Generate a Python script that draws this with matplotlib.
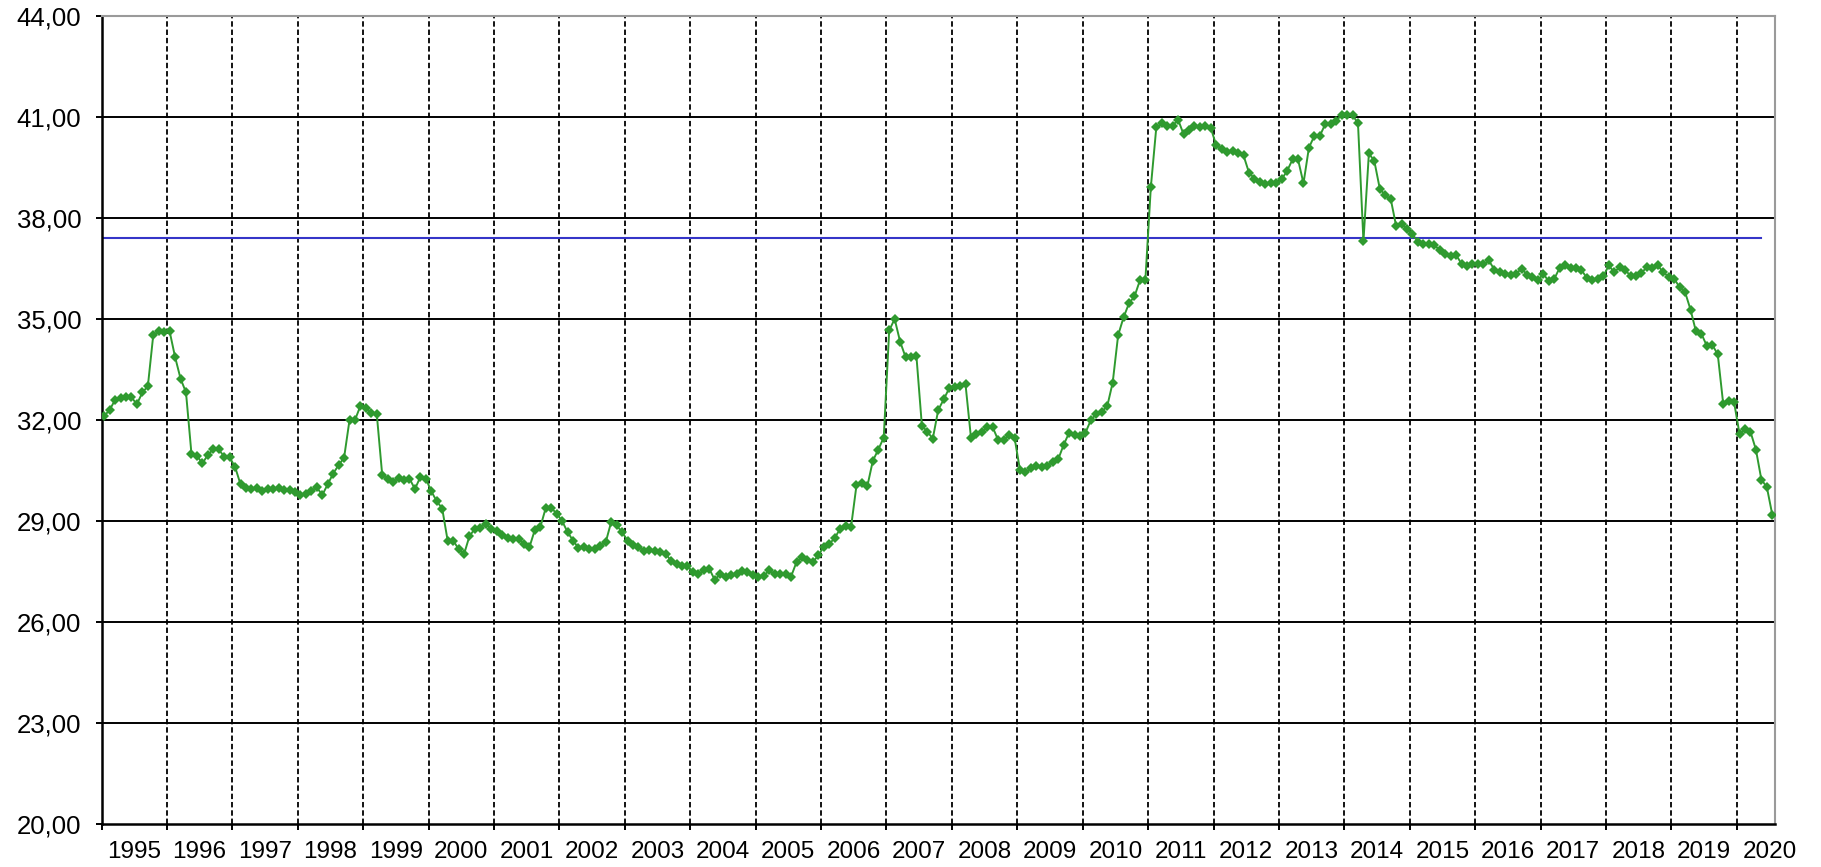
import numpy as np
import matplotlib
matplotlib.use("Agg")
import matplotlib.pyplot as plt
from matplotlib.ticker import FixedLocator, FuncFormatter

plt.rcParams['font.family'] = ['Liberation Sans', 'DejaVu Sans']

# Monthly values, January 1995 .. July 2020
v1995 = [32.12, 32.30, 32.60, 32.65, 32.67, 32.67, 32.47, 32.82, 33.00, 34.53, 34.63, 34.60]
v1996 = [34.63, 33.87, 33.23, 32.82, 31.00, 30.94, 30.71, 30.96, 31.13, 31.13, 30.91, 30.89]
v1997 = [30.61, 30.09, 29.99, 29.94, 29.99, 29.88, 29.94, 29.94, 29.99, 29.91, 29.93, 29.86]
v1998 = [29.77, 29.80, 29.90, 30.00, 29.77, 30.09, 30.41, 30.66, 30.88, 32.00, 32.00, 32.42]
v1999 = [32.35, 32.20, 32.17, 30.36, 30.26, 30.16, 30.27, 30.22, 30.26, 29.95, 30.31, 30.26]
v2000 = [29.88, 29.59, 29.37, 28.42, 28.42, 28.17, 28.01, 28.55, 28.77, 28.80, 28.92, 28.77]
v2001 = [28.70, 28.57, 28.50, 28.47, 28.47, 28.32, 28.22, 28.74, 28.82, 29.39, 29.39, 29.22]
v2002 = [29.00, 28.67, 28.42, 28.20, 28.24, 28.17, 28.17, 28.27, 28.37, 28.97, 28.87, 28.67]
v2003 = [28.42, 28.30, 28.22, 28.12, 28.14, 28.12, 28.07, 28.03, 27.81, 27.73, 27.65, 27.67]
v2004 = [27.48, 27.43, 27.53, 27.58, 27.25, 27.43, 27.33, 27.41, 27.43, 27.51, 27.48, 27.40]
v2005 = [27.35, 27.38, 27.53, 27.43, 27.43, 27.43, 27.35, 27.78, 27.93, 27.85, 27.78, 27.98]
v2006 = [28.24, 28.32, 28.49, 28.77, 28.84, 28.82, 30.06, 30.13, 30.04, 30.79, 31.12, 31.48]
v2007 = [34.66, 35.00, 34.33, 33.87, 33.87, 33.89, 31.83, 31.65, 31.45, 32.30, 32.61, 32.94]
v2008 = [32.99, 33.01, 33.06, 31.48, 31.58, 31.65, 31.78, 31.78, 31.40, 31.42, 31.55, 31.47]
v2009 = [30.51, 30.46, 30.56, 30.63, 30.59, 30.63, 30.76, 30.83, 31.26, 31.62, 31.55, 31.53]
v2010 = [31.62, 32.00, 32.18, 32.25, 32.41, 33.11, 34.52, 35.05, 35.47, 35.67, 36.15, 36.17]
v2011 = [38.92, 40.69, 40.81, 40.74, 40.74, 40.92, 40.49, 40.62, 40.74, 40.69, 40.74, 40.67]
v2012 = [40.16, 40.06, 39.96, 39.99, 39.92, 39.86, 39.35, 39.17, 39.08, 39.02, 39.03, 39.03]
v2013 = [39.15, 39.40, 39.74, 39.74, 39.03, 40.09, 40.44, 40.44, 40.79, 40.79, 40.89, 41.06]
v2014 = [41.06, 41.06, 40.81, 37.31, 39.92, 39.69, 38.87, 38.67, 38.57, 37.76, 37.83, 37.66]
v2015 = [37.51, 37.30, 37.24, 37.24, 37.20, 37.04, 36.92, 36.87, 36.90, 36.64, 36.57, 36.62]
v2016 = [36.64, 36.62, 36.74, 36.47, 36.40, 36.34, 36.32, 36.34, 36.50, 36.32, 36.25, 36.15]
v2017 = [36.34, 36.12, 36.19, 36.52, 36.59, 36.52, 36.52, 36.45, 36.22, 36.15, 36.19, 36.27]
v2018 = [36.59, 36.39, 36.54, 36.47, 36.27, 36.29, 36.37, 36.54, 36.52, 36.59, 36.39, 36.25]
v2019 = [36.19, 35.95, 35.80, 35.28, 34.63, 34.56, 34.20, 34.23, 33.95, 32.48, 32.55, 32.52]
v2020 = [31.58, 31.72, 31.65, 31.12, 30.23, 30.01, 29.19]

year_labels = [str(y) for y in range(1995, 2021)]
y_ticks = [20, 23, 26, 29, 32, 35, 38, 41, 44]

ref_level = 37.40      # horizontal blue reference line
ref_months = 305       # number of months covered by the reference line

values = np.array(v1995 + v1996 + v1997 + v1998 + v1999 + v2000 + v2001 + v2002 +
                  v2003 + v2004 + v2005 + v2006 + v2007 + v2008 + v2009 + v2010 +
                  v2011 + v2012 + v2013 + v2014 + v2015 + v2016 + v2017 + v2018 +
                  v2019 + v2020)
n = len(values)
x = np.arange(n) + 0.5

W, H = 1821, 867
fig = plt.figure(figsize=(W / 100, H / 100), dpi=100)
ax = fig.add_axes([101.5 / W, 1 - 824 / H, (1775 - 101.5) / W, (824 - 16) / H])

ax.set_xlim(0, n)
ax.set_ylim(20, 44)

# gridlines
for yv in y_ticks[1:-1]:
    ax.axhline(yv, color='black', lw=1.4, zorder=1)
year_bounds = np.arange(12, n, 12)
for xb in year_bounds:
    ax.axvline(xb, color='black', lw=1.3, linestyle=(0, (3.0, 1.6)), zorder=1)

# reference line
ax.plot([0.5, ref_months - 0.5], [ref_level, ref_level], color='#3535C8', lw=1.5, zorder=2)

# data
ax.plot(x, values, color='#2f9a2f', lw=1.4, marker='D', markersize=5.2,
        markeredgewidth=0, zorder=3)

# spines
for s in ['left', 'bottom']:
    ax.spines[s].set_color('black')
    ax.spines[s].set_linewidth(1.8)
for s in ['top', 'right']:
    ax.spines[s].set_color('#9a9a9a')
    ax.spines[s].set_linewidth(1.5)

# y axis
ax.yaxis.set_major_locator(FixedLocator(y_ticks))
ax.yaxis.set_major_formatter(FuncFormatter(lambda v, p: f"{v:.2f}".replace('.', ',')))
ax.tick_params(axis='y', direction='out', length=4.5, width=1.4, pad=10,
               labelsize=18.5, colors='black')

# x axis: tick marks at year boundaries, labels at mid-year
ax.xaxis.set_major_locator(FixedLocator(list(np.arange(0, n, 12))))
ax.xaxis.set_major_formatter(FuncFormatter(lambda v, p: ''))
ax.tick_params(axis='x', which='major', direction='out', length=4.5, width=1.4)
label_pos = np.arange(6, n + 6, 12)[:len(year_labels)]
ax.xaxis.set_minor_locator(FixedLocator(list(label_pos)))
ax.set_xticklabels(year_labels, minor=True)
ax.tick_params(axis='x', which='minor', length=0, pad=12, labelsize=17.5)

fig.savefig('out.png', dpi=100, facecolor='white')
